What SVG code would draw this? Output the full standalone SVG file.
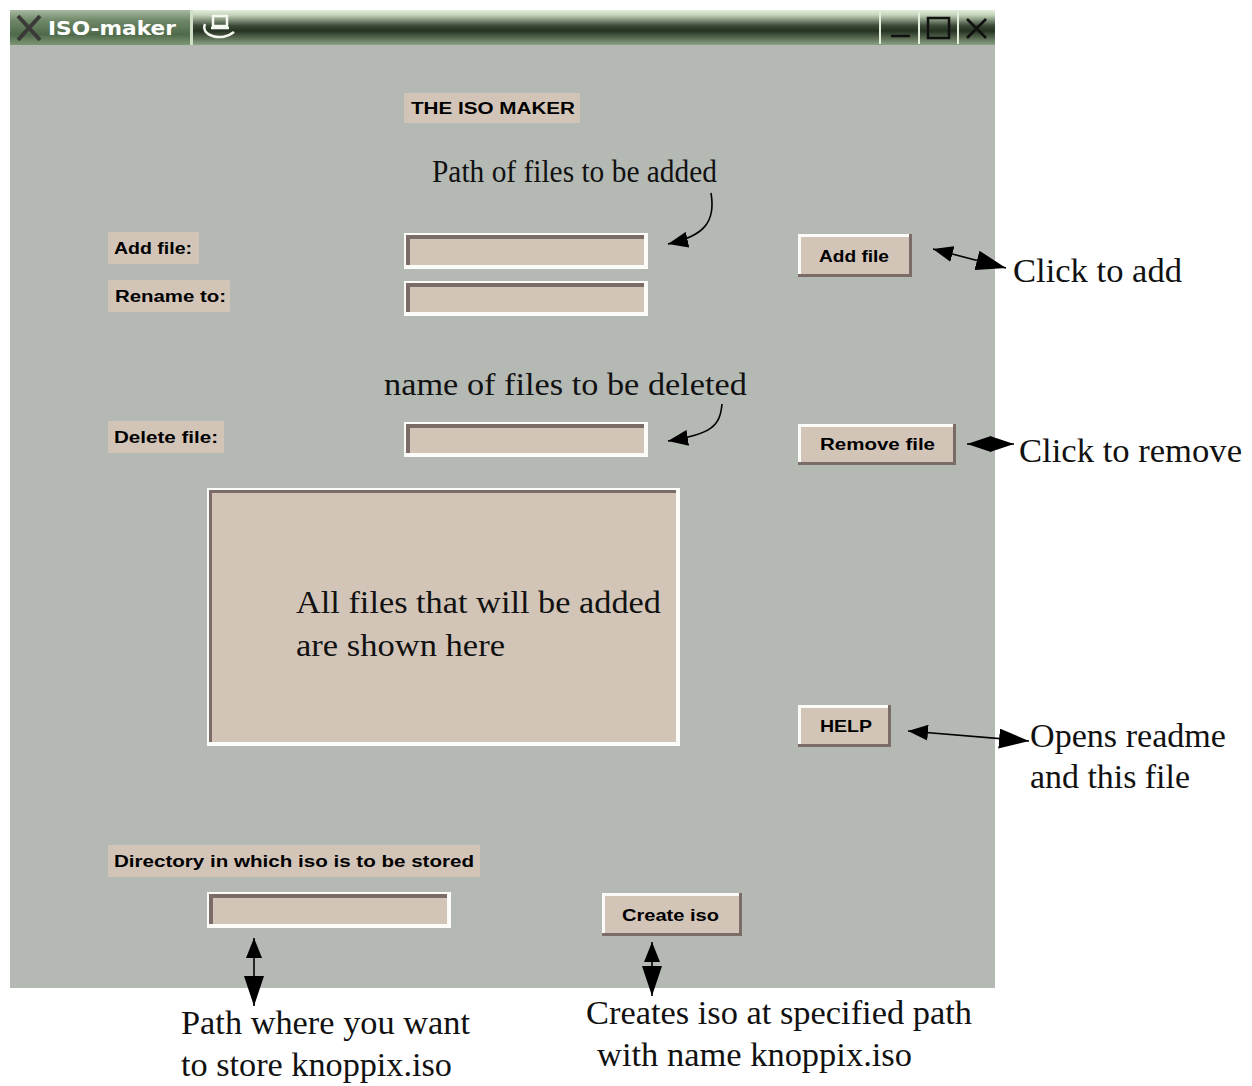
<svg xmlns="http://www.w3.org/2000/svg" width="1252" height="1086" viewBox="0 0 1252 1086">
<defs>
<linearGradient id="tb" x1="0" y1="0" x2="0" y2="1">
<stop offset="0" stop-color="#e4eedd"/>
<stop offset="0.15" stop-color="#c2d2b8"/>
<stop offset="0.45" stop-color="#3a4936"/>
<stop offset="0.6" stop-color="#263222"/>
<stop offset="1" stop-color="#8aa282"/>
</linearGradient>
<linearGradient id="tab" x1="0" y1="0" x2="0" y2="1">
<stop offset="0" stop-color="#a8b8a0"/>
<stop offset="0.3" stop-color="#6f8868"/>
<stop offset="0.7" stop-color="#4f6a4a"/>
<stop offset="1" stop-color="#7e9676"/>
</linearGradient>
<marker id="as" markerUnits="userSpaceOnUse" markerWidth="20" markerHeight="16" refX="20" refY="8" orient="auto-start-reverse"><path d="M0,0 L20,8 L0,16 z" fill="#000"/></marker>
<marker id="am" markerUnits="userSpaceOnUse" markerWidth="24" markerHeight="16" refX="24" refY="8" orient="auto-start-reverse"><path d="M0,0 L24,8 L0,16 z" fill="#000"/></marker>
<marker id="al" markerUnits="userSpaceOnUse" markerWidth="30" markerHeight="20" refX="30" refY="10" orient="auto-start-reverse"><path d="M0,0 L30,10 L0,20 z" fill="#000"/></marker>
</defs>
<style>
.bg{fill:#b5b9b4}
.tan{fill:#d2c5b8}
.hi{fill:#fbfbf8}
.dk{fill:#7b6c68}
.wl{font-family:"Liberation Sans",Arial,sans-serif;font-weight:bold;font-size:16px;fill:#000}
.an{font-family:"Liberation Serif","Times New Roman",serif;font-size:31px;fill:#111}
.ao{font-family:"Liberation Serif","Times New Roman",serif;font-size:34px;fill:#111}
.ln{fill:none;stroke:#000;stroke-width:1.6}
</style>
<rect x="0" y="0" width="1252" height="1086" fill="#ffffff"/>

<g id="window">
<rect class="bg" x="10" y="44" width="985" height="944"/>
<rect x="10" y="10" width="985" height="35" fill="url(#tb)"/>
<rect x="10" y="10" width="180" height="35" fill="url(#tab)"/>
<rect x="190" y="10" width="3" height="35" fill="#cfe0c6"/>
<path d="M18,16 L40,40 M40,16 L18,40" stroke="#3a3a38" stroke-width="4"/>
<text x="48" y="35" font-family="'DejaVu Sans',Verdana,sans-serif" font-weight="bold" font-size="20" fill="#ffffff" textLength="128" lengthAdjust="spacingAndGlyphs">ISO-maker</text>
<g fill="none" stroke="#f4f8f0" stroke-width="2.5">
<path d="M205,24 C200,36 222,42 234,32"/>
<path d="M213,26 L213,16 L227,16 L227,26 z"/>
<path d="M211,28 L229,28"/>
</g>
<g stroke="#e4eedd" stroke-width="2" fill="none">
<line x1="880" y1="12" x2="880" y2="44"/>
<line x1="919" y1="12" x2="919" y2="44"/>
<line x1="958" y1="12" x2="958" y2="44"/>
</g>
<line x1="891" y1="36" x2="910" y2="36" stroke="#111" stroke-width="2.5"/>
<rect x="928" y="18" width="21" height="20" fill="none" stroke="#111" stroke-width="2.5"/>
<path d="M967,19 L986,38 M986,19 L967,38" stroke="#111" stroke-width="2.5"/>
</g>

<g id="title-label">
<rect class="tan" x="404" y="93" width="176" height="30"/>
<text class="wl" x="411" y="114" textLength="164" lengthAdjust="spacingAndGlyphs">THE ISO MAKER</text>
</g>

<g id="lbl-add">
<rect class="tan" x="108" y="232" width="91" height="32"/>
<text class="wl" x="114" y="254" textLength="78" lengthAdjust="spacingAndGlyphs">Add file:</text>
</g>
<g id="lbl-rename">
<rect class="tan" x="108" y="280" width="122" height="32"/>
<text class="wl" x="115" y="302" textLength="111" lengthAdjust="spacingAndGlyphs">Rename to:</text>
</g>
<g id="lbl-delete">
<rect class="tan" x="108" y="421" width="116" height="32"/>
<text class="wl" x="114" y="443" textLength="104" lengthAdjust="spacingAndGlyphs">Delete file:</text>
</g>
<g id="lbl-dir">
<rect class="tan" x="108" y="845" width="372" height="32"/>
<text class="wl" x="114" y="867" textLength="360" lengthAdjust="spacingAndGlyphs">Directory in which iso is to be stored</text>
</g>

<g id="entry-add">
<rect class="hi" x="404" y="233" width="244" height="36"/>
<rect class="dk" x="406" y="235" width="238" height="4"/>
<rect class="dk" x="406" y="235" width="4" height="30"/>
<rect class="tan" x="410" y="239" width="234" height="26"/>
</g>
<g id="entry-rename">
<rect class="hi" x="404" y="281" width="244" height="35"/>
<rect class="dk" x="406" y="283" width="238" height="4"/>
<rect class="dk" x="406" y="283" width="4" height="29"/>
<rect class="tan" x="410" y="287" width="234" height="25"/>
</g>
<g id="entry-delete">
<rect class="hi" x="404" y="422" width="244" height="35"/>
<rect class="dk" x="406" y="424" width="238" height="4"/>
<rect class="dk" x="406" y="424" width="4" height="29"/>
<rect class="tan" x="410" y="428" width="234" height="25"/>
</g>
<g id="entry-dir">
<rect class="hi" x="207" y="892" width="244" height="36"/>
<rect class="dk" x="209" y="894" width="238" height="4"/>
<rect class="dk" x="209" y="894" width="4" height="30"/>
<rect class="tan" x="213" y="898" width="234" height="26"/>
</g>

<g id="listbox">
<rect class="hi" x="207" y="488" width="473" height="258"/>
<rect class="dk" x="209" y="490" width="467" height="3"/>
<rect class="dk" x="209" y="490" width="3" height="252"/>
<rect class="tan" x="212" y="493" width="464" height="249"/>
<text class="an" x="296" y="613" textLength="365" lengthAdjust="spacingAndGlyphs">All files that will be added</text>
<text class="an" x="296" y="656" textLength="209" lengthAdjust="spacingAndGlyphs">are shown here</text>
</g>

<g id="btn-add">
<rect class="dk" x="798" y="234" width="114" height="43"/>
<rect class="hi" x="798" y="234" width="111" height="40"/>
<rect class="tan" x="801" y="237" width="108" height="37"/>
<text class="wl" x="819" y="262" textLength="70" lengthAdjust="spacingAndGlyphs">Add file</text>
</g>
<g id="btn-remove">
<rect class="dk" x="798" y="424" width="158" height="41"/>
<rect class="hi" x="798" y="424" width="155" height="38"/>
<rect class="tan" x="801" y="427" width="152" height="35"/>
<text class="wl" x="820" y="450" textLength="115" lengthAdjust="spacingAndGlyphs">Remove file</text>
</g>
<g id="btn-help">
<rect class="dk" x="798" y="705" width="93" height="42"/>
<rect class="hi" x="798" y="705" width="90" height="39"/>
<rect class="tan" x="801" y="708" width="87" height="36"/>
<text class="wl" x="820" y="732" textLength="52" lengthAdjust="spacingAndGlyphs">HELP</text>
</g>
<g id="btn-create">
<rect class="dk" x="602" y="893" width="140" height="43"/>
<rect class="hi" x="602" y="893" width="137" height="40"/>
<rect class="tan" x="605" y="896" width="134" height="37"/>
<text class="wl" x="622" y="921" textLength="97" lengthAdjust="spacingAndGlyphs">Create iso</text>
</g>

<g id="annotations">
<text class="an" x="432" y="182" font-size="28" textLength="285" lengthAdjust="spacingAndGlyphs">Path of files to be added</text>
<text class="an" x="384" y="395" textLength="363" lengthAdjust="spacingAndGlyphs">name of files to be deleted</text>
<text class="ao" x="1013" y="282" textLength="169" lengthAdjust="spacingAndGlyphs">Click to add</text>
<text class="ao" x="1019" y="462" textLength="223" lengthAdjust="spacingAndGlyphs">Click to remove</text>
<text class="ao" x="1030" y="747" textLength="196" lengthAdjust="spacingAndGlyphs">Opens readme</text>
<text class="ao" x="1030" y="788" textLength="160" lengthAdjust="spacingAndGlyphs">and this file</text>
<text class="ao" x="181" y="1034" font-size="32" textLength="289" lengthAdjust="spacingAndGlyphs">Path where you want</text>
<text class="ao" x="181" y="1076" font-size="32" textLength="271" lengthAdjust="spacingAndGlyphs">to store knoppix.iso</text>
<text class="ao" x="586" y="1024" font-size="32" textLength="386" lengthAdjust="spacingAndGlyphs">Creates iso at specified path</text>
<text class="ao" x="597" y="1066" font-size="32" textLength="315" lengthAdjust="spacingAndGlyphs">with name knoppix.iso</text>
</g>

<g id="connectors">
<path class="ln" d="M711,193 C716,222 704,236 668,244" marker-end="url(#as)"/>
<path class="ln" d="M722,404 C720,426 712,434 668,441" marker-end="url(#as)"/>
<path class="ln" d="M933,249 L1006,268" marker-start="url(#as)" marker-end="url(#al)"/>
<path class="ln" d="M967,444 L1014,444" marker-start="url(#am)" marker-end="url(#am)"/>
<path class="ln" d="M908,731 L1029,741" marker-start="url(#as)" marker-end="url(#al)"/>
<path class="ln" d="M254,938 L254,1006" marker-start="url(#as)" marker-end="url(#al)"/>
<path class="ln" d="M652,942 L652,996" marker-start="url(#as)" marker-end="url(#al)"/>
</g>
</svg>
